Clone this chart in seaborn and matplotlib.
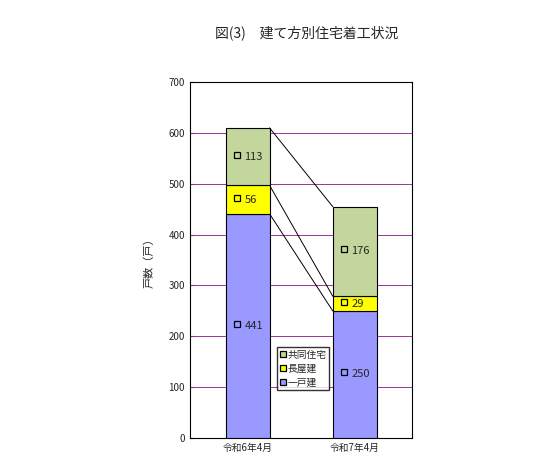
import numpy as np
import matplotlib
matplotlib.use("Agg")
from matplotlib import pyplot as plt
from matplotlib.lines import Line2D
import seaborn as sns

periods = ["令和6年4月", "令和7年4月"]
detached = [441, 250]      # 一戸建
row_house = [56, 29]       # 長屋建
apartment = [113, 176]     # 共同住宅
names = ["一戸建", "長屋建", "共同住宅"]
colors = ["#9999FF", "#FFFF00", "#C3D69B"]

sns.set_style("white")
plt.rcParams['font.family'] = ['Noto Sans CJK JP', 'DejaVu Sans']

fig = plt.figure(figsize=(5.33, 4.69), dpi=100)
ax = fig.add_axes([0.356, 0.066, 0.417, 0.759])

layers = [np.array(detached), np.array(row_house), np.array(apartment)]
bottom = np.zeros(2)
w = 0.41
for vals, c in zip(layers, colors):
    sns.barplot(x=periods, y=vals, color=c, width=w, bottom=bottom,
                edgecolor="black", linewidth=0.8, saturation=1, ax=ax, zorder=3)
    for i, v in enumerate(vals):
        y = bottom[i] + v / 2
        ax.plot(i - 0.1, y + 4, marker="s", ms=4, mfc="none", mec="black", mew=0.9, zorder=4)
        ax.text(i - 0.03, y, str(v), fontsize=8, va="center", ha="left", zorder=4)
    bottom = bottom + vals

# connecting lines between segment boundaries
cum = np.cumsum(np.vstack(layers), axis=0)
for row in cum:
    ax.plot([w / 2, 1 - w / 2], [row[0], row[1]], color="black", lw=0.7, zorder=2)

ax.set_xlim(-0.54, 1.535)
ax.set_ylim(0, 700)
ax.set_yticks(range(0, 701, 100))
for y in range(100, 701, 100):
    ax.axhline(y, color="#993399", lw=0.7, zorder=1)
for s in ax.spines.values():
    s.set_color("black")
    s.set_linewidth(0.8)
ax.tick_params(axis="both", labelsize=7, length=0)
ax.tick_params(axis="y", length=3, direction="in", left=True)
ax.set_ylabel("戸数（戸）", fontsize=8, labelpad=10)

handles = [Line2D([], [], marker="s", ls="none", ms=4, mfc=c, mec="black", mew=0.9)
           for c in colors[::-1]]
ax.legend(handles, names[::-1], loc="lower left", bbox_to_anchor=(0.37, 0.12),
          fontsize=7, frameon=True, fancybox=False, edgecolor="black",
          handlelength=0.6, handletextpad=0.2, borderpad=0.3, labelspacing=0.4)

fig.text(0.575, 0.92, "図(3)　建て方別住宅着工状況", ha="center", fontsize=10)
fig.savefig("out.png", dpi=100)
